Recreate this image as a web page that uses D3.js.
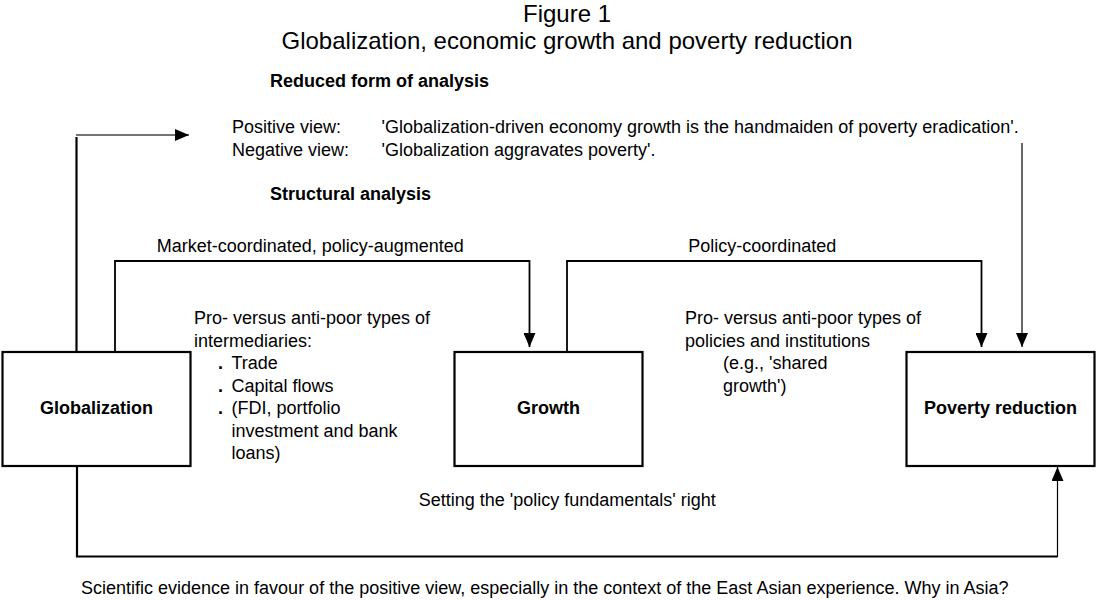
<!DOCTYPE html>
<html>
<head>
  <meta charset="utf-8">
  <title>Globalization, economic growth and poverty reduction</title>
  <style>
    body { margin: 0; background: #fff; }
    text { font-family: "Liberation Sans", Arial, sans-serif; fill: #000; }
  </style>
</head>
<body>
  <script src="https://d3js.org/d3.v7.min.js"></script>
  <script>
  // diagram content
  var titleLines = ["Figure 1", "Globalization, economic growth and poverty reduction"];
  var nodes = ["Globalization", "Growth", "Poverty reduction"];
  var reducedHeading = "Reduced form of analysis";
  var viewLabels = ["Positive view:", "Negative view:"];
  var viewTexts = ["'Globalization-driven economy growth is the handmaiden of poverty eradication'.",
                   "'Globalization aggravates poverty'."];
  var structuralHeading = "Structural analysis";
  var links = [
    {source: "Globalization", target: "Growth", label: "Market-coordinated, policy-augmented"},
    {source: "Growth", target: "Poverty reduction", label: "Policy-coordinated"}
  ];
  var bottomLink = {source: "Globalization", target: "Poverty reduction", label: "Setting the 'policy fundamentals' right"};
  var intermediaryHead = ["Pro- versus anti-poor types of", "intermediaries:"];
  var intermediaryBullets = ["Trade", "Capital flows", "(FDI, portfolio"];
  var intermediaryCont = ["investment and bank", "loans)"];
  var policyHead = ["Pro- versus anti-poor types of", "policies and institutions"];
  var policyNote = ["(e.g., 'shared", "growth')"];
  var footnote = "Scientific evidence in favour of the positive view, especially in the context of the East Asian experience. Why in Asia?";

  var width = 1096, height = 600;
  var svg = d3.select("body").append("svg")
      .attr("width", width)
      .attr("height", height);

  var defs = svg.append("defs");
  defs.append("marker")
      .attr("id", "head")
      .attr("markerUnits", "userSpaceOnUse")
      .attr("viewBox", "0 0 14 12")
      .attr("refX", 14).attr("refY", 6)
      .attr("markerWidth", 14).attr("markerHeight", 12)
      .attr("orient", "auto")
    .append("path")
      .attr("d", "M0,0 L14,6 L0,12 Z")
      .attr("fill", "#000");

  var x = d3.scalePoint().domain(nodes).range([96.5, 1000.5]);
  var boxW = 188, boxTop = 352, boxH = 114;
  var lineY = 261, tipY = 347;
  var lh = 22.5;

  // title
  svg.selectAll(".title").data(titleLines).enter().append("text")
      .attr("x", 567)
      .attr("y", function(d, i){ return 22 + i * 27; })
      .attr("text-anchor", "middle")
      .attr("font-size", "24px")
      .text(function(d){ return d; });

  // boxes
  var box = svg.selectAll(".node").data(nodes).enter().append("g");
  box.append("rect")
      .attr("x", function(d){ return x(d) - boxW / 2; })
      .attr("y", boxTop)
      .attr("width", boxW)
      .attr("height", boxH)
      .attr("fill", "none")
      .attr("stroke", "#000")
      .attr("stroke-width", 2.2);
  box.append("text")
      .attr("x", function(d){ return x(d); })
      .attr("y", 414)
      .attr("text-anchor", "middle")
      .attr("font-size", "18px")
      .attr("font-weight", "bold")
      .text(function(d){ return d; });

  // reduced form
  svg.append("text").attr("x", 270).attr("y", 87)
      .attr("font-size", "18px").attr("font-weight", "bold").text(reducedHeading);
  svg.selectAll(".vl").data(viewLabels).enter().append("text")
      .attr("x", 232).attr("y", function(d, i){ return 133 + i * 23; })
      .attr("font-size", "18px").text(function(d){ return d; });
  svg.selectAll(".vt").data(viewTexts).enter().append("text")
      .attr("x", 381.5).attr("y", function(d, i){ return 133 + i * 23; })
      .attr("font-size", "18px").text(function(d){ return d; });
  svg.append("text").attr("x", 270).attr("y", 200)
      .attr("font-size", "18px").attr("font-weight", "bold").text(structuralHeading);

  // reduced-form arrows
  var g0 = x(nodes[0]), g2 = x(nodes[2]);
  svg.append("path")
      .attr("d", "M" + (g0 - 20) + "," + boxTop + " V137")
      .attr("fill", "none").attr("stroke", "#000").attr("stroke-width", 2.2);
  svg.append("path")
      .attr("d", "M" + (g0 - 20.5) + ",135 H189")
      .attr("fill", "none").attr("stroke", "#444").attr("stroke-width", 1.5)
      .attr("marker-end", "url(#head)");
  svg.append("path")
      .attr("d", "M" + (g2 + 21.5) + ",143 V" + tipY)
      .attr("fill", "none").attr("stroke", "#000").attr("stroke-width", 1.2)
      .attr("marker-end", "url(#head)");

  // structural links
  links.forEach(function(l){
    var sx = x(l.source) + 18.5, tx = x(l.target) - 19;
    svg.append("path")
        .attr("d", "M" + sx + "," + boxTop + " V" + lineY + " H" + tx + " V" + tipY)
        .attr("fill", "none").attr("stroke", "#000").attr("stroke-width", 1.8)
        .attr("marker-end", "url(#head)");
    svg.append("text")
        .attr("x", (sx + tx) / 2 - 12).attr("y", 252)
        .attr("text-anchor", "middle").attr("font-size", "18px")
        .text(l.label);
  });

  // bottom link
  var bx0 = x(bottomLink.source) - 19.5, bx1 = x(bottomLink.target) + 57;
  svg.append("path")
      .attr("d", "M" + bx0 + "," + (boxTop + boxH) + " V556.5 H" + bx1)
      .attr("fill", "none").attr("stroke", "#000").attr("stroke-width", 2.2);
  svg.append("path")
      .attr("d", "M" + bx1 + ",557 V" + (boxTop + boxH + 1))
      .attr("fill", "none").attr("stroke", "#000").attr("stroke-width", 1.2)
      .attr("marker-end", "url(#head)");
  svg.append("text")
      .attr("x", (bx0 + bx1) / 2).attr("y", 506)
      .attr("text-anchor", "middle").attr("font-size", "18px")
      .text(bottomLink.label);

  // intermediaries text
  svg.selectAll(".ih").data(intermediaryHead).enter().append("text")
      .attr("x", 194).attr("y", function(d, i){ return 324 + i * lh; })
      .attr("font-size", "18px").text(function(d){ return d; });
  var bl = svg.selectAll(".ib").data(intermediaryBullets).enter().append("g");
  bl.append("text")
      .attr("x", 218).attr("y", function(d, i){ return 369 + i * lh; })
      .attr("font-size", "18px").attr("font-weight", "bold").text(".");
  bl.append("text")
      .attr("x", 231.5).attr("y", function(d, i){ return 369 + i * lh; })
      .attr("font-size", "18px").text(function(d){ return d; });
  svg.selectAll(".ic").data(intermediaryCont).enter().append("text")
      .attr("x", 231.5).attr("y", function(d, i){ return 369 + (i + 3) * lh; })
      .attr("font-size", "18px").text(function(d){ return d; });

  // policies text
  svg.selectAll(".ph").data(policyHead).enter().append("text")
      .attr("x", 685).attr("y", function(d, i){ return 324 + i * lh; })
      .attr("font-size", "18px").text(function(d){ return d; });
  svg.selectAll(".pn").data(policyNote).enter().append("text")
      .attr("x", 723).attr("y", function(d, i){ return 369 + i * lh; })
      .attr("font-size", "18px").text(function(d){ return d; });

  // footnote
  svg.append("text").attr("x", 81).attr("y", 594)
      .attr("font-size", "18px").text(footnote);
  </script>
</body>
</html>
